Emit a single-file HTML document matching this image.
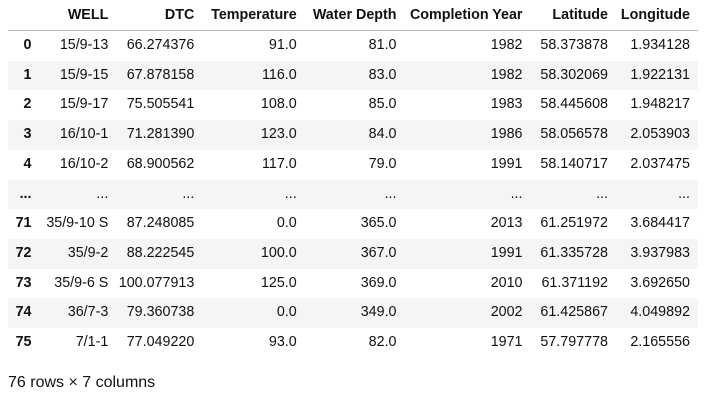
<!DOCTYPE html>
<html>
<head>
<meta charset="utf-8">
<style>
  html, body { margin: 0; padding: 0; background: #fff; }
  body { width: 719px; height: 402px; position: relative; overflow: hidden;
         font-family: "Liberation Sans", Arial, sans-serif; color: #111; font-size: 14.3px; }
  .row { position: absolute; left: 8px; width: 690px; height: 29.7px; }
  .row.g { background: #f5f5f5; }
  .row span { position: absolute; top: 0; line-height: 29.7px; white-space: nowrap; }
  .hdr { position: absolute; left: 8px; width: 690px; top: 0; height: 30px; font-weight: bold; }
  .hdr span { position: absolute; top: 0; line-height: 30px; white-space: nowrap; }
  .line { position: absolute; left: 8px; width: 690px; top: 30px; height: 1px; background: #bdbdbd; }
  .c0 { right: 666.5px; font-weight: bold; }
  .c1 { right: 589.7px; }
  .c2 { right: 503.7px; }
  .c3 { right: 401.3px; }
  .c4 { right: 301.5px; }
  .c5 { right: 175.5px; }
  .c6 { right: 90px; }
  .c7 { right: 8px; }
  .foot { position: absolute; left: 8px; top: 372.7px; font-size: 16px; line-height: 20px; white-space: nowrap; }
</style>
</head>
<body>
<div class="hdr">
  <span class="c1">WELL</span><span class="c2">DTC</span><span class="c3">Temperature</span><span class="c4">Water Depth</span><span class="c5">Completion Year</span><span class="c6">Latitude</span><span class="c7">Longitude</span>
</div>
<div class="line"></div>

<div class="row" style="top:31px"><span class="c0">0</span><span class="c1">15/9-13</span><span class="c2">66.274376</span><span class="c3">91.0</span><span class="c4">81.0</span><span class="c5">1982</span><span class="c6">58.373878</span><span class="c7">1.934128</span></div>
<div class="row g" style="top:60.7px"><span class="c0">1</span><span class="c1">15/9-15</span><span class="c2">67.878158</span><span class="c3">116.0</span><span class="c4">83.0</span><span class="c5">1982</span><span class="c6">58.302069</span><span class="c7">1.922131</span></div>
<div class="row" style="top:90.4px"><span class="c0">2</span><span class="c1">15/9-17</span><span class="c2">75.505541</span><span class="c3">108.0</span><span class="c4">85.0</span><span class="c5">1983</span><span class="c6">58.445608</span><span class="c7">1.948217</span></div>
<div class="row g" style="top:120.1px"><span class="c0">3</span><span class="c1">16/10-1</span><span class="c2">71.281390</span><span class="c3">123.0</span><span class="c4">84.0</span><span class="c5">1986</span><span class="c6">58.056578</span><span class="c7">2.053903</span></div>
<div class="row" style="top:149.8px"><span class="c0">4</span><span class="c1">16/10-2</span><span class="c2">68.900562</span><span class="c3">117.0</span><span class="c4">79.0</span><span class="c5">1991</span><span class="c6">58.140717</span><span class="c7">2.037475</span></div>
<div class="row g" style="top:179.5px"><span class="c0">...</span><span class="c1">...</span><span class="c2">...</span><span class="c3">...</span><span class="c4">...</span><span class="c5">...</span><span class="c6">...</span><span class="c7">...</span></div>
<div class="row" style="top:209.2px"><span class="c0">71</span><span class="c1">35/9-10 S</span><span class="c2">87.248085</span><span class="c3">0.0</span><span class="c4">365.0</span><span class="c5">2013</span><span class="c6">61.251972</span><span class="c7">3.684417</span></div>
<div class="row g" style="top:238.9px"><span class="c0">72</span><span class="c1">35/9-2</span><span class="c2">88.222545</span><span class="c3">100.0</span><span class="c4">367.0</span><span class="c5">1991</span><span class="c6">61.335728</span><span class="c7">3.937983</span></div>
<div class="row" style="top:268.6px"><span class="c0">73</span><span class="c1">35/9-6 S</span><span class="c2">100.077913</span><span class="c3">125.0</span><span class="c4">369.0</span><span class="c5">2010</span><span class="c6">61.371192</span><span class="c7">3.692650</span></div>
<div class="row g" style="top:298.3px"><span class="c0">74</span><span class="c1">36/7-3</span><span class="c2">79.360738</span><span class="c3">0.0</span><span class="c4">349.0</span><span class="c5">2002</span><span class="c6">61.425867</span><span class="c7">4.049892</span></div>
<div class="row" style="top:328px"><span class="c0">75</span><span class="c1">7/1-1</span><span class="c2">77.049220</span><span class="c3">93.0</span><span class="c4">82.0</span><span class="c5">1971</span><span class="c6">57.797778</span><span class="c7">2.165556</span></div>

<div class="foot">76 rows × 7 columns</div>
</body>
</html>
